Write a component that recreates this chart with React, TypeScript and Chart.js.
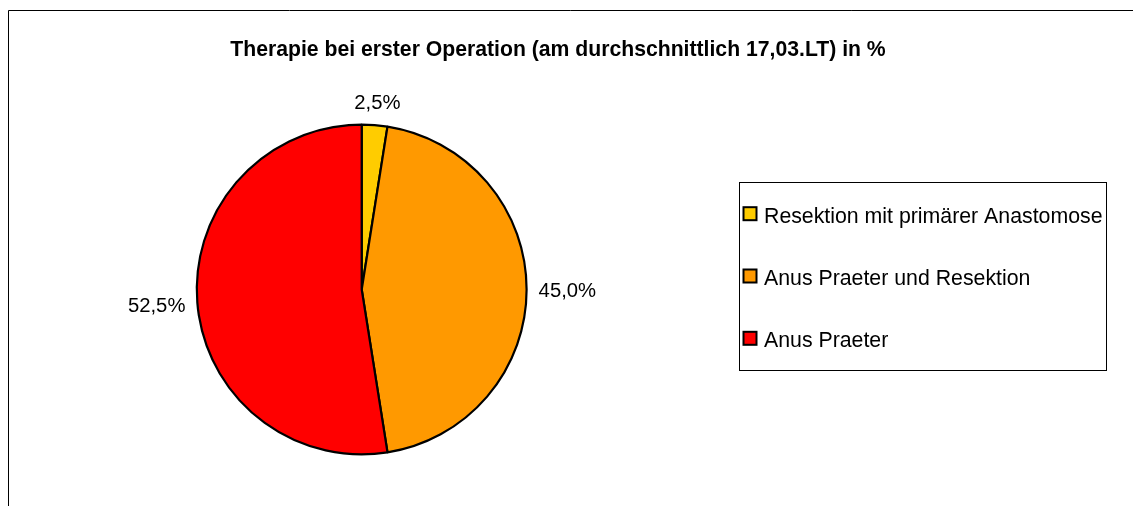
import React, { useEffect, useRef } from "react";
import { Chart, registerables } from "chart.js";

Chart.register(...registerables);

const categories = [
  "Resektion mit primärer Anastomose",
  "Anus Praeter und Resektion",
  "Anus Praeter",
];
const values = [2.5, 45.0, 52.5];
const colors = ["#FFCC00", "#FF9900", "#FF0000"];
const titleText = "Therapie bei erster Operation (am durchschnittlich 17,03.LT) in %";

const FONT = '"Liberation Sans", Arial, Helvetica, sans-serif';

const fmt = (v: number) => v.toFixed(1).replace(".", ",") + "%";

const decorPlugin = {
  id: "decor",
  beforeDraw(chart: any) {
    const ctx = chart.ctx;
    ctx.save();
    ctx.fillStyle = "#fff";
    ctx.fillRect(0, 0, chart.width, chart.height);
    ctx.strokeStyle = "#000";
    ctx.lineWidth = 1;
    ctx.beginPath();
    ctx.moveTo(8.5, chart.height);
    ctx.lineTo(8.5, 10.5);
    ctx.lineTo(chart.width, 10.5);
    ctx.stroke();
    // title
    ctx.fillStyle = "#000";
    ctx.font = `bold 21.2px ${FONT}`;
    ctx.textAlign = "center";
    ctx.textBaseline = "alphabetic";
    ctx.fillText(titleText, 558, 56);
    ctx.restore();
  },
  afterDatasetsDraw(chart: any) {
    const ctx = chart.ctx;
    const meta = chart.getDatasetMeta(0);
    const ds = chart.data.datasets[0];
    ctx.save();
    ctx.font = `20.3px ${FONT}`;
    ctx.fillStyle = "#000";
    ctx.textAlign = "center";
    ctx.textBaseline = "alphabetic";
    const gap = 11;
    const halfH = 12;
    meta.data.forEach((arc: any, i: number) => {
      const p = arc.getProps(["x", "y", "startAngle", "endAngle", "outerRadius"], true);
      const mid = (p.startAngle + p.endAngle) / 2;
      const dx = Math.cos(mid);
      const dy = Math.sin(mid);
      const txt = fmt(ds.data[i]);
      const w = ctx.measureText(txt).width;
      const R = p.outerRadius + 1 + gap;
      const cx = p.x + dx * R + dx * (w / 2);
      const cy = p.y + dy * R + dy * halfH;
      ctx.fillText(txt, cx, cy + 7.5);
    });
    // legend
    const bx = 739.5, by = 182.5, bw = 367, bh = 188;
    ctx.strokeStyle = "#000";
    ctx.lineWidth = 1;
    ctx.strokeRect(bx, by, bw, bh);
    ctx.font = `21.3px ${FONT}`;
    ctx.textAlign = "left";
    const labels: string[] = chart.data.labels;
    labels.forEach((lab: string, i: number) => {
      const base = 222.7 + i * 62.3;
      ctx.fillStyle = ds.backgroundColor[i];
      ctx.fillRect(743.5, base - 15.5, 13, 13);
      ctx.strokeStyle = "#000";
      ctx.lineWidth = 2;
      ctx.strokeRect(743.5, base - 15.5, 13, 13);
      ctx.fillStyle = "#000";
      ctx.fillText(lab, 764, base);
    });
    ctx.restore();
  },
};

export default function App() {
  const ref = useRef<HTMLCanvasElement | null>(null);
  useEffect(() => {
    if (!ref.current) return;
    const W = 1133, H = 506;
    const cxp = 361.7, cyp = 289.5, side = 332;
    const chart = new Chart(ref.current, {
      type: "pie",
      data: {
        labels: categories,
        datasets: [
          {
            data: values,
            backgroundColor: colors,
            borderColor: "#000",
            borderWidth: 2.2,
          },
        ],
      },
      options: {
        responsive: false,
        animation: false,
        devicePixelRatio: 1,
        layout: {
          padding: {
            left: cxp - side / 2,
            top: cyp - side / 2,
            right: W - (cxp + side / 2),
            bottom: H - (cyp + side / 2),
          },
        },
        plugins: {
          legend: { display: false },
          title: { display: false },
          tooltip: { enabled: false },
        },
      },
      plugins: [decorPlugin],
    });
    return () => chart.destroy();
  }, []);
  return (
    <div style={{ position: "absolute", left: 0, top: 0, width: 1133, height: 506 }}>
      <canvas ref={ref} width={1133} height={506} style={{ display: "block" }} />
    </div>
  );
}
